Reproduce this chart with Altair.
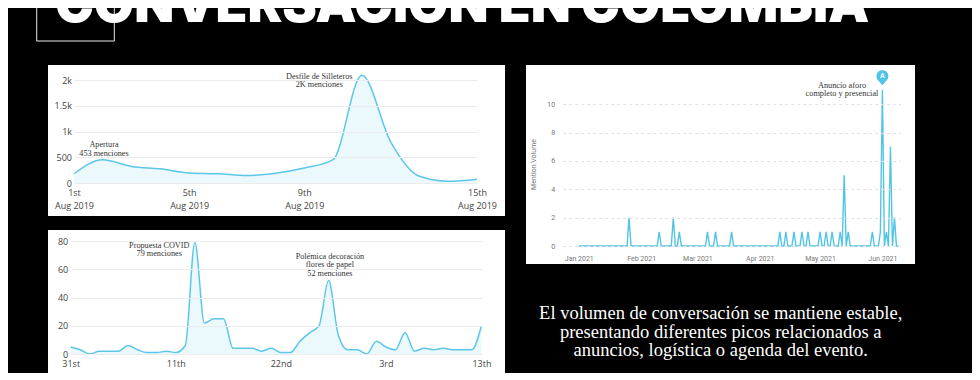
import altair as alt
import pandas as pd

# ---------------- data ----------------
# Panel 1 : 1-15 Aug 2019
p1_dates = ["2019-08-01", "2019-08-02", "2019-08-03", "2019-08-04", "2019-08-05",
            "2019-08-06", "2019-08-07", "2019-08-08", "2019-08-09", "2019-08-10",
            "2019-08-11", "2019-08-12", "2019-08-13", "2019-08-14", "2019-08-15"]
p1_values = [180, 453, 320, 275, 195, 180, 145, 190, 290, 455, 2090, 800, 130, 35, 75]
p1_ticks = ["2019-08-01", "2019-08-05", "2019-08-09", "2019-08-15"]
p1_y_ticks = [0, 500, 1000, 1500, 2000]
p1_ann_dates = ["2019-08-02T01:00:00Z", "2019-08-09T12:30:00Z"]
p1_ann_values = [695, 2020]
p1_ann_texts = ["Apertura\n453 menciones", "Desfile de Silleteros\n2K menciones"]

# Panel 2 : 31 May - 13 Jul 2020 (daily)
p2_start = "2020-05-31"
p2_values = [5, 3, 0, 2, 2, 2, 6, 3, 1, 1, 2, 1, 6, 79, 22, 25, 25, 4, 4, 4, 2, 4,
             1, 1, 9, 15, 20, 52, 14, 3, 3, 0, 9, 5, 3, 15, 2, 4, 3, 4, 3, 3, 3, 20]
p2_ticks = ["2020-05-31", "2020-06-11", "2020-06-22", "2020-07-03", "2020-07-13"]
p2_y_ticks = [0, 20, 40, 60, 80]
p2_ann_dates = ["2020-06-09T06:30:00Z", "2020-06-27T03:20:00Z"]
p2_ann_values = [75.2, 67.4]
p2_ann_texts = ["Propuesta COVID\n79 menciones",
                "Polémica decoración\nflores de papel\n52 menciones"]

# Panel 3 : Jan - Jun 2021 (daily, zero except these days)
p3_start, p3_end = "2021-01-01", "2021-06-09"
p3_spike_dates = ["2021-01-26", "2021-02-10", "2021-02-17", "2021-02-20", "2021-03-06",
                  "2021-03-10", "2021-03-18", "2021-04-11", "2021-04-14", "2021-04-18",
                  "2021-04-22", "2021-04-25", "2021-05-01", "2021-05-04", "2021-05-07",
                  "2021-05-11", "2021-05-13", "2021-05-15", "2021-05-27", "2021-05-31",
                  "2021-06-01", "2021-06-03", "2021-06-05", "2021-06-07"]
p3_spike_values = [2, 1, 2, 1, 1, 1, 1, 1, 1, 1, 1, 1, 1, 1, 1, 1, 5, 1, 1, 1, 11, 1, 7, 2]
p3_ticks = ["2021-01-01", "2021-02-01", "2021-03-01", "2021-04-01", "2021-05-01", "2021-06-01"]
p3_y_ticks = [0, 2, 4, 6, 8, 10]
p3_ann_dates = ["2021-05-11T21:30:00Z"]
p3_ann_values = [11.17]
p3_ann_texts = ["Anuncio aforo\ncompleto y presencial"]
p3_pin_dates = ["2021-06-01"]
p3_pin_values = [11]
p3_pin_labels = ["A"]

title_text = "CONVERSACIÓN EN COLOMBIA"
body_lines = ["El volumen de conversación se mantiene estable,",
              "presentando diferentes picos relacionados a",
              "anuncios, logística o agenda del evento."]


def ms(s):
    return int(pd.Timestamp(s, tz="UTC").value // 10**6)


df1 = pd.DataFrame({"date": p1_dates, "value": p1_values})
df1a = pd.DataFrame({"date": p1_ann_dates, "value": p1_ann_values, "label": p1_ann_texts})
df2 = pd.DataFrame({"date": pd.date_range(p2_start, periods=len(p2_values), freq="D").strftime("%Y-%m-%d"),
                    "value": p2_values})
df2a = pd.DataFrame({"date": p2_ann_dates, "value": p2_ann_values, "label": p2_ann_texts})
days3 = pd.date_range(p3_start, p3_end, freq="D").strftime("%Y-%m-%d")
spikes = dict(zip(p3_spike_dates, p3_spike_values))
df3 = pd.DataFrame({"date": list(days3), "value": [spikes.get(d, 0) for d in days3]})
df3a = pd.DataFrame({"date": p3_ann_dates, "value": p3_ann_values, "label": p3_ann_texts})
df3p = pd.DataFrame({"date": p3_pin_dates, "value": p3_pin_values, "label": p3_pin_labels})
one = pd.DataFrame({"k": [0]})

# ---------------- styles ----------------
AX_FONT = "Open Sans"
LAB_COLOR = "#444444"
FILL = "#e2f5fb"
STROKE = "#5cc7e8"
SERIF = "Liberation Serif"

D = "utcdate(datum.value)"
SUF = ("(" + D + " % 10 == 1 && " + D + " != 11 ? 'st' : "
       + D + " % 10 == 2 && " + D + " != 12 ? 'nd' : "
       + D + " % 10 == 3 && " + D + " != 13 ? 'rd' : 'th')")
LBL2 = "[" + D + " + " + SUF + ", utcFormat(datum.value, '%b %Y')]"
K_LABEL = "datum.value >= 1000 ? format(datum.value / 1000, '~r') + 'k' : format(datum.value, 'd')"


def x_axis(ticks, pad):
    return alt.Axis(values=[ms(t) for t in ticks], labelExpr=LBL2, labelFlush=False,
                    labelOverlap=False, labelFont=AX_FONT, labelFontSize=9,
                    labelColor=LAB_COLOR, labelPadding=pad, labelLineHeight=13,
                    domain=False, ticks=False, grid=False, zindex=1)


def y_axis(ticks, expr, pad):
    return alt.Axis(values=ticks, labelExpr=expr, labelFont=AX_FONT, labelFontSize=9,
                    labelColor=LAB_COLOR, labelPadding=pad, domain=False, ticks=False,
                    grid=True, gridColor="#ececec", zindex=1)


def rect(x0, x1, y0, y1, **kw):
    return alt.Chart(one).mark_rect(**kw).encode(
        x=alt.value(x0), x2=alt.value(x1), y=alt.value(y0), y2=alt.value(y1))


def annotations(df, x, y, size=8.2):
    return alt.Chart(df).mark_text(font=SERIF, fontSize=size, color="#333333",
                                   lineBreak="\n", lineHeight=8.5, align="center",
                                   baseline="alphabetic").encode(x=x, y=y, text="label:N")


# ---------------- panel 1 ----------------
x1 = alt.X("date:T", title="", axis=x_axis(p1_ticks, 5),
           scale=alt.Scale(type="utc", domain=[ms("2019-08-01"), ms("2019-08-15")], nice=False))
y1 = alt.Y("value:Q", title="", axis=y_axis(p1_y_ticks, K_LABEL, 2.5),
           scale=alt.Scale(domain=[0, 2000], nice=False))

frame = rect(-66, 898, -171, 329, color="#000000")
square = rect(-37.3, 40.3, -171, -39, fillOpacity=0, stroke="#e8e8e8", strokeWidth=1)
title = alt.Chart(one).mark_text(text=title_text, font="Inter", fontSize=52, fontWeight=900,
                                 color="#ffffff", align="left", baseline="alphabetic").encode(
    x=alt.value(-19), y=alt.value(-58.5))
box1 = rect(-26, 431, -15, 136, color="#ffffff")
area1 = alt.Chart(df1).mark_area(interpolate="monotone", fill=FILL,
                                 line={"color": STROKE, "strokeWidth": 1.5}).encode(x=x1, y=y1)
ann1 = annotations(df1a, x1, y1)
p1 = alt.layer(frame, square, title, box1, area1, ann1).properties(width=403, height=103)

# ---------------- panel 2 ----------------
x2 = alt.X("date:T", title="", axis=x_axis(p2_ticks, 5),
           scale=alt.Scale(type="utc", domain=[ms("2020-05-31"), ms("2020-07-13")],
                           nice=False, range=[-3.3, 407.4]))
y2 = alt.Y("value:Q", title="", axis=y_axis(p2_y_ticks, "format(datum.value, 'd')", 6.3),
           scale=alt.Scale(domain=[0, 80], nice=False))
box2 = rect(-26, 431, -11, 140, color="#ffffff")
area2 = alt.Chart(df2).mark_area(interpolate="monotone", fill=FILL,
                                 line={"color": STROKE, "strokeWidth": 1.5}).encode(x=x2, y=y2)
ann2 = annotations(df2a, x2, y2)
p2 = alt.layer(box2, area2, ann2).properties(width=403, height=113)

# ---------------- panel 3 ----------------
G = "#777777"
x3 = alt.X("date:T", title="",
           axis=alt.Axis(values=[ms(t) for t in p3_ticks], labelExpr="utcFormat(datum.value, '%b %Y')",
                         labelFlush=False, labelOverlap=False, labelFont="Roboto", labelFontSize=7,
                         labelColor=G, labelPadding=8, offset=63, domain=False, ticks=False,
                         grid=False, zindex=1),
           scale=alt.Scale(type="utc", domain=[ms("2020-12-24"), ms("2021-06-10")],
                           nice=False, range=[0, 337.8]))
y3 = alt.Y("value:Q", title="Mention Volume",
           axis=alt.Axis(values=p3_y_ticks, format="d", labelFont="Roboto", labelFontSize=7,
                         labelColor=G, labelPadding=8, domain=False, ticks=False, grid=True,
                         gridColor="#e2e2e2", gridDash=[3, 3], titleFont="Roboto",
                         titleFontSize=7, titleFontWeight="normal", titleColor=G,
                         titleX=-26.5, titleY=84, titleAngle=270, titleBaseline="bottom",
                         zindex=1),
           scale=alt.Scale(domain=[0, 10], nice=False, range=[166, 24.3]))
box3 = rect(-36.7, 352.3, -15, 184, color="#ffffff")
line3 = alt.Chart(df3).mark_line(color="#52c5e5", strokeWidth=1.4).encode(x=x3, y=y3)
ann3 = annotations(df3a, x3, y3, 8.3)
PIN = "M-0.87,0.5A1,1,0,1,1,0.87,0.5L0,1.5Z"
pin = alt.Chart(df3p).mark_point(shape=PIN, size=144, filled=True, color="#4fc4e4",
                                  opacity=1, yOffset=-14).encode(x=x3, y=y3)
pin_a = alt.Chart(df3p).mark_text(font="Roboto", fontSize=7, fontWeight="bold", color="#ffffff",
                                  baseline="middle", align="center", dy=-14).encode(
    x=x3, y=y3, text="label:N")
body = [alt.Chart(one).mark_text(text=t, font=SERIF, fontSize=18.5, color="#ffffff",
                                 align="center", baseline="alphabetic").encode(
    x=alt.value(158), y=alt.value(yv)) for t, yv in zip(body_lines, [239, 257.5, 276])]
p3 = alt.layer(box3, line3, ann3, pin, pin_a, *body).properties(width=338, height=103)

chart = alt.concat(
    p1, p3, p2, columns=2, spacing={"row": 58, "column": 85.7}, bounds="flush", align="each"
).properties(
    padding={"left": 0, "top": -100, "right": 0, "bottom": -36},
    background="#000000",
).configure_view(strokeWidth=0)

chart.save("out.html", embed_options={"renderer": "svg", "actions": False})
